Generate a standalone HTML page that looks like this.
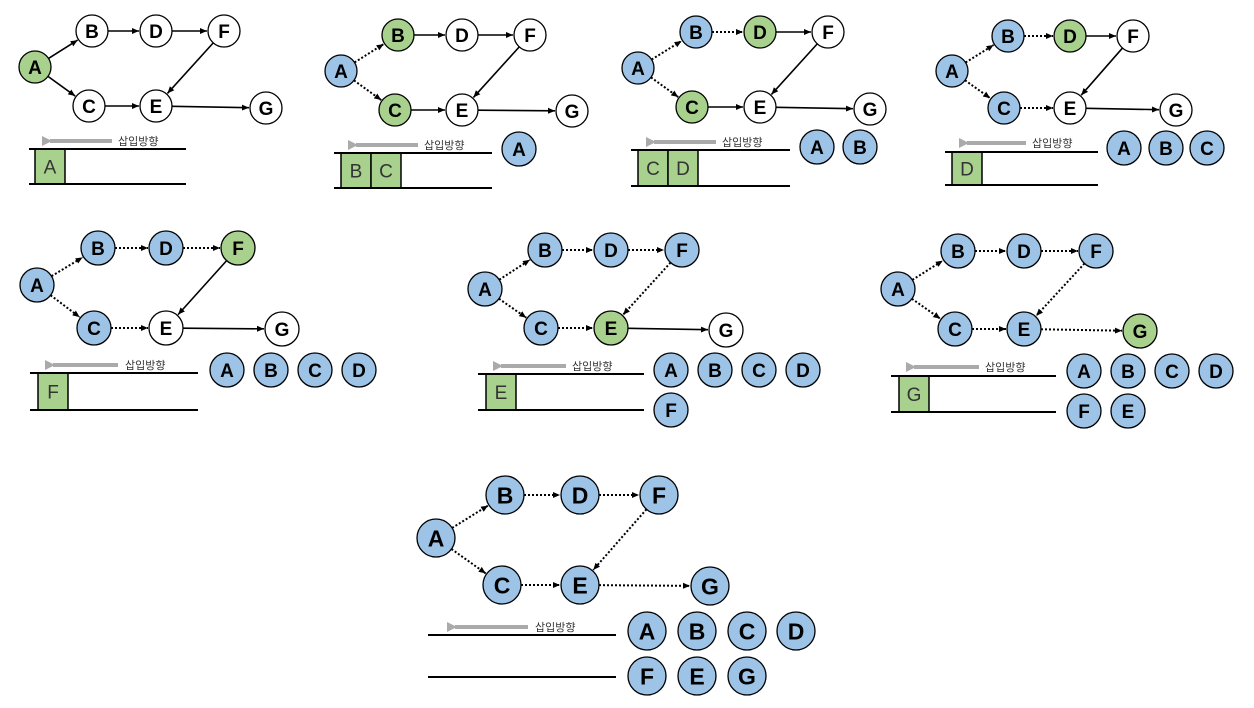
<!DOCTYPE html>
<html><head><meta charset="utf-8"><style>
html,body{margin:0;padding:0;background:#fff;}
svg{display:block;}
text{font-family:"Liberation Sans","Noto Sans CJK KR",sans-serif;}
</style></head><body>
<svg id="s" width="1254" height="708" viewBox="0 0 1254 708" xmlns="http://www.w3.org/2000/svg">
<defs>
<marker id="ah" markerWidth="8" markerHeight="8" refX="7" refY="4" orient="auto" markerUnits="userSpaceOnUse"><path d="M0,1 L7,4 L0,7 z" fill="#000"/></marker>
<marker id="gh" markerWidth="12" markerHeight="12" refX="2" refY="6" orient="auto" markerUnits="userSpaceOnUse"><path d="M10,1 L0,6 L10,11 z" fill="#aaa"/></marker>
</defs>
</svg>
<script>
const S=document.getElementById('s'),NS='http://www.w3.org/2000/svg';
function el(t,a,txt){const e=document.createElementNS(NS,t);for(const k in a)e.setAttribute(k,a[k]);if(txt)e.textContent=txt;S.appendChild(e);return e;}
const G='#a9d18e',B='#9dc3e6',W='#fff';
const edges=[['A','B'],['A','C'],['B','D'],['D','F'],['C','E'],['F','E'],['E','G']];
const P=[
{r:16,fs:19,n:{A:[35,67],B:[92,31],D:[156,31],F:[224,31],C:[89,106],E:[156,106],G:[266,108]},col:{A:G},dot:[],q:[29,186,149,184],box:[[35,'A']],arr:[112,42,141],tx:118,vis:[]},
{r:16,fs:19,n:{A:[341,71],B:[398,35],D:[462,35],F:[530,35],C:[395,110],E:[462,110],G:[572,111]},col:{A:B,B:G,C:G},dot:['AB','AC'],q:[334,492,153,188],box:[[341,'B'],[371,'C']],arr:[418,348,145],tx:424,vis:[['A',519,149]]},
{r:16,fs:19,n:{A:[638,68],B:[696,32],D:[760,32],F:[828,32],C:[692,107],E:[760,107],G:[870,109]},col:{A:B,B:B,C:G,D:G},dot:['AB','AC','BD'],q:[631,790,150,186],box:[[638,'C'],[668,'D']],arr:[716,646,142],tx:722,vis:[['A',817,147],['B',860,147]]},
{r:16,fs:19,n:{A:[952,71],B:[1008,36],D:[1070,36],F:[1133,36],C:[1004,108],E:[1070,108],G:[1176,110]},col:{A:B,B:B,C:B,D:G},dot:['AB','AC','BD','CE'],q:[945,1098,152,185],box:[[952,'D']],arr:[1026,959,143],tx:1032,vis:[['A',1124,148],['B',1166,148],['C',1207,148]]},
{r:17,fs:19,n:{A:[37,285],B:[98,248],D:[166,248],F:[238,248],C:[94,328],E:[166,328],G:[282,329]},col:{A:B,B:B,C:B,D:B,F:G},dot:['AB','AC','BD','CE','DF'],q:[30,198,373,410],box:[[38,'F']],arr:[118,45,365],tx:125,vis:[['A',227,370],['B',271,370],['C',315,370],['D',359,370]]},
{r:17,fs:19,n:{A:[485,289],B:[545,250],D:[611,250],F:[682,250],C:[541,328],E:[611,328],G:[726,330]},col:{A:B,B:B,C:B,D:B,F:B,E:G},dot:['AB','AC','BD','CE','DF','FE'],q:[478,644,374,410],box:[[486,'E']],arr:[566,493,366],tx:572,vis:[['A',671,370],['B',715,370],['C',759,370],['D',803,370],['F',671,410]]},
{r:17,fs:19,n:{A:[898,289],B:[958,251],D:[1024,251],F:[1096,251],C:[955,329],E:[1024,329],G:[1140,331]},col:{A:B,B:B,C:B,D:B,F:B,E:B,G:G},dot:['AB','AC','BD','CE','DF','FE','EG'],q:[891,1056,376,412],box:[[899,'G']],arr:[979,906,367],tx:985,vis:[['A',1084,371],['B',1128,371],['C',1172,371],['D',1216,371],['F',1084,411],['E',1128,411]]},
{r:19,fs:23,n:{A:[436,538],B:[505,495],D:[580,495],F:[659,495],C:[502,585],E:[580,585],G:[710,586]},col:{A:B,B:B,C:B,D:B,F:B,E:B,G:B},dot:['AB','AC','BD','CE','DF','FE','EG'],q:[428,616,635,677],box:[],arr:[528,447,627],tx:535,vis:[['A',647,631],['B',697,631],['C',747,631],['D',796,631],['F',647,676],['E',697,676],['G',747,676]]}
];
for(const p of P){
 for(const [a,b] of edges){const [x1,y1]=p.n[a],[x2,y2]=p.n[b];const dx=x2-x1,dy=y2-y1,L=Math.hypot(dx,dy),ux=dx/L,uy=dy/L;
  const d=p.dot.includes(a+b);
  el('line',{x1:x1+ux*p.r,y1:y1+uy*p.r,x2:x2-ux*(p.r+1),y2:y2-uy*(p.r+1),stroke:'#000','stroke-width':d?2:1.6,'stroke-dasharray':d?'2 2':'none','marker-end':'url(#ah)'});}
 for(const k in p.n){const [x,y]=p.n[k];el('circle',{cx:x,cy:y,r:p.r,fill:p.col[k]||W,stroke:'#000','stroke-width':1.3});
  el('text',{x:x,y:y+p.fs*0.36,'text-anchor':'middle','font-size':p.fs,'font-weight':'bold'},k);}
 const [x1,x2,y1,y2]=p.q;
 for(const [bx,l] of p.box){el('rect',{x:bx,y:y1,width:30,height:y2-y1,fill:G,stroke:'#000','stroke-width':1.5});
  el('text',{x:bx+15,y:(y1+y2)/2+7,'text-anchor':'middle','font-size':19,fill:'#333'},l);}
 el('line',{x1:x1,y1:y1,x2:x2,y2:y1,stroke:'#000','stroke-width':2});
 el('line',{x1:x1,y1:y2,x2:x2,y2:y2,stroke:'#000','stroke-width':2});
 const [ax1,ax2,ay]=p.arr;
 el('line',{x1:ax1,y1:ay,x2:ax2+8,y2:ay,stroke:'#aaa','stroke-width':4,'marker-end':'url(#gh)'});
 el('text',{x:p.tx,y:ay+4,'font-size':11,fill:'#333'},'삽입방향');
 const vr=p.r===19?19:17;
 for(const [k,x,y] of p.vis){el('circle',{cx:x,cy:y,r:vr,fill:B,stroke:'#000','stroke-width':1.3});
  el('text',{x:x,y:y+p.fs*0.36,'text-anchor':'middle','font-size':p.fs,'font-weight':'bold'},k);}
}
</script>
</body></html>
